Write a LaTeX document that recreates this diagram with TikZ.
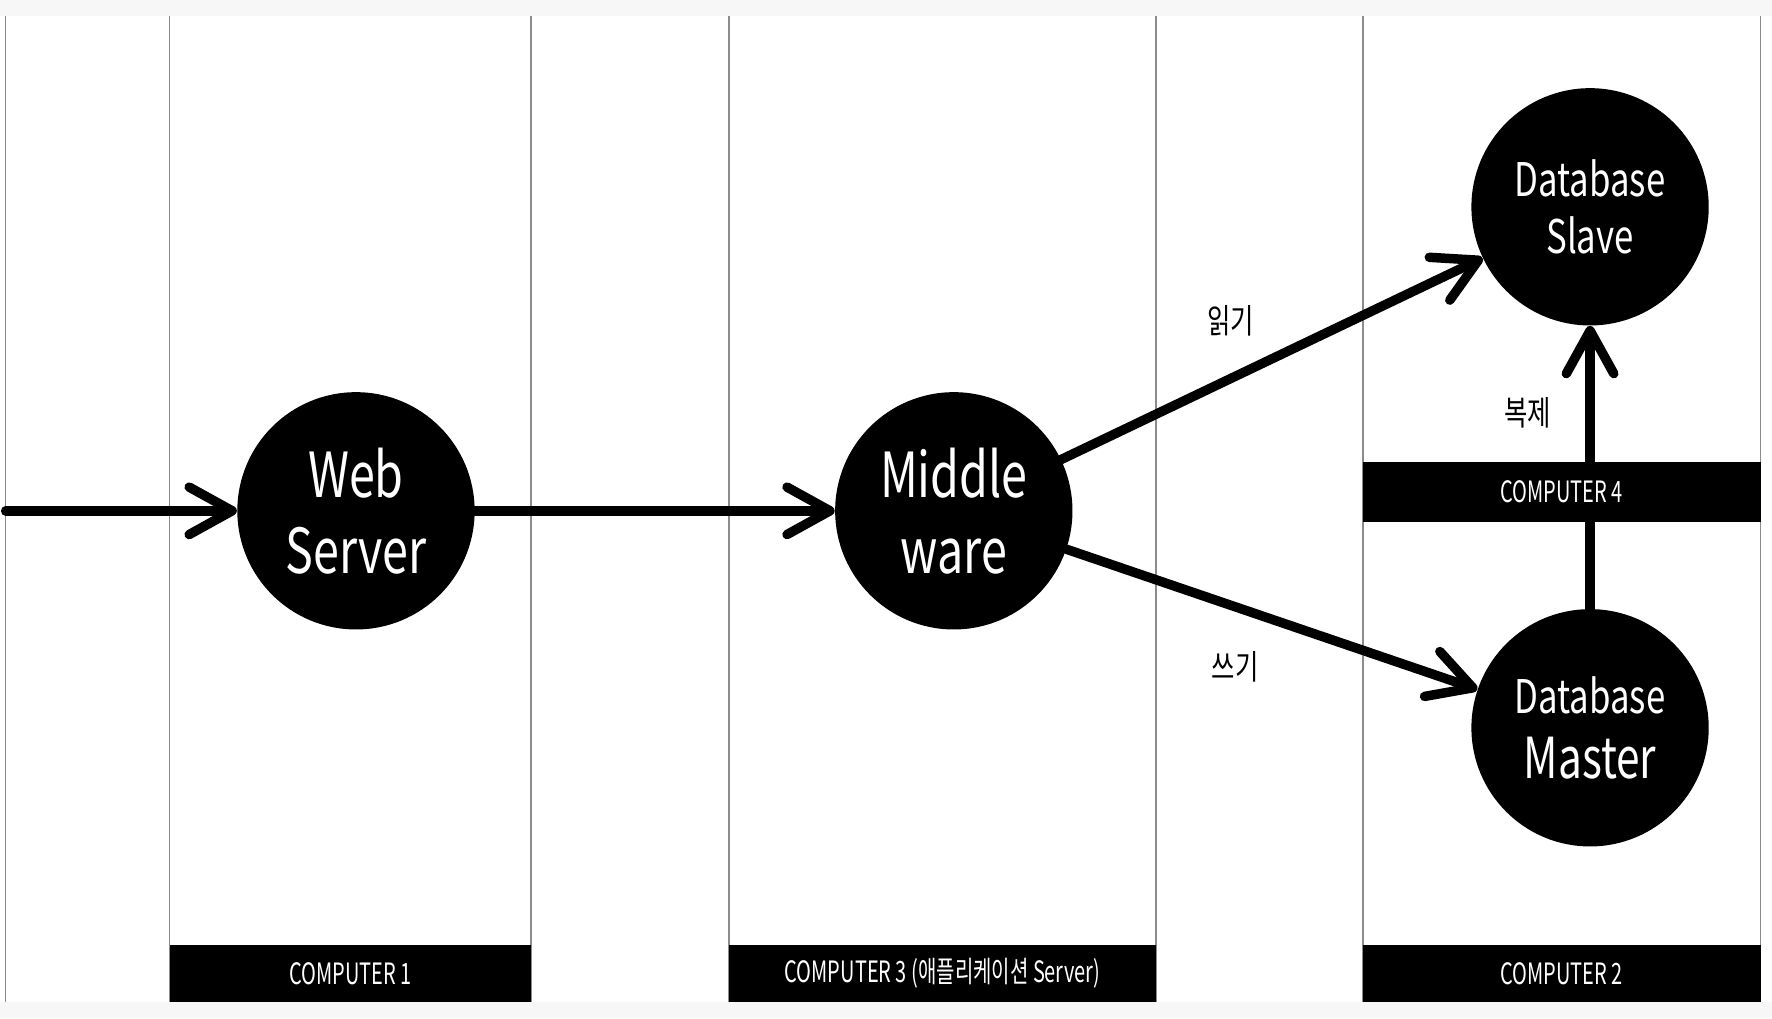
\documentclass[tikz,border=0pt]{standalone}
\usepackage{fontspec}
\newfontfamily\lab{Noto Sans CJK KR}[FakeStretch=0.75]
\newfontfamily\barfont{Noto Sans CJK KR}[FakeStretch=0.68]
\usetikzlibrary{arrows.meta}
\definecolor{bg}{RGB}{246,247,246}
\definecolor{rule}{RGB}{140,140,140}
\begin{document}
\begin{tikzpicture}[x=0.5pt,y=-0.5pt,
  col/.style={draw=rule, line width=0.6pt},
  barbox/.style={rectangle, fill=black, draw=none, inner sep=0pt, text=white, font=\barfont\fontsize{13}{15}\selectfont},
  db/.style={circle, fill=black, minimum size=105pt, inner sep=0pt, text=white, align=center},
  conn/.style={line width=4.2pt, line cap=round, -{Straight Barb[length=19pt,width=21pt,round]}},
  kor/.style={font=\lab\fontsize{15}{18}\selectfont, inner sep=0pt}]
\fill[bg] (0,0) rectangle (1568,901);
\fill[white] (0,14) rectangle (1568,887);
\useasboundingbox (0,0) rectangle (1568,901);
% column rules
\foreach \xx in {5,150,470,645,1023,1206,1558}
  \draw[col] (\xx,14) -- (\xx,887);
% circles
\node[db, font=\lab\fontsize{27.5}{33.5}\selectfont] (web) at (315,452) {Web\\Server};
\node[db, font=\lab\fontsize{27.5}{33.5}\selectfont] (mw) at (844,452) {Middle\\ware};
\node[db, font=\lab\fontsize{20.5}{25.5}\selectfont] (slave) at (1407,183) {Database\\Slave};
\node[db, font=\lab\fontsize{20.5}{28.5}\selectfont] (master) at (1407,644) {Database\\{\fontsize{25}{28.5}\selectfont Master}};
% connectors
\coordinate (in) at (5,452);
\draw[conn] (in) -- (web);
\draw[conn] (web) -- (mw);
\draw[conn] (mw) -- (slave);
\draw[conn] (mw) -- (master);
\draw[conn] (master) -- (slave);
% bars (drawn over the connector)
\node[barbox, minimum width=160pt, minimum height=25.5pt] (c1) at (310,861.5) {COMPUTER 1};
\node[barbox, minimum width=189pt, minimum height=25.5pt] (c3) at (834,861.5) {COMPUTER 3 (애플리케이션 Server)};
\node[barbox, minimum width=176pt, minimum height=25.5pt] (c2) at (1382,861.5) {COMPUTER 2};
\node[barbox, minimum width=176pt, minimum height=26.5pt] (c4) at (1382,435.5) {COMPUTER 4};
% labels
\node[kor] (read) at (1089,284) {읽기};
\node[kor] (write) at (1093,590) {쓰기};
\node[kor] (repl) at (1352,365) {복제};
\end{tikzpicture}
\end{document}
